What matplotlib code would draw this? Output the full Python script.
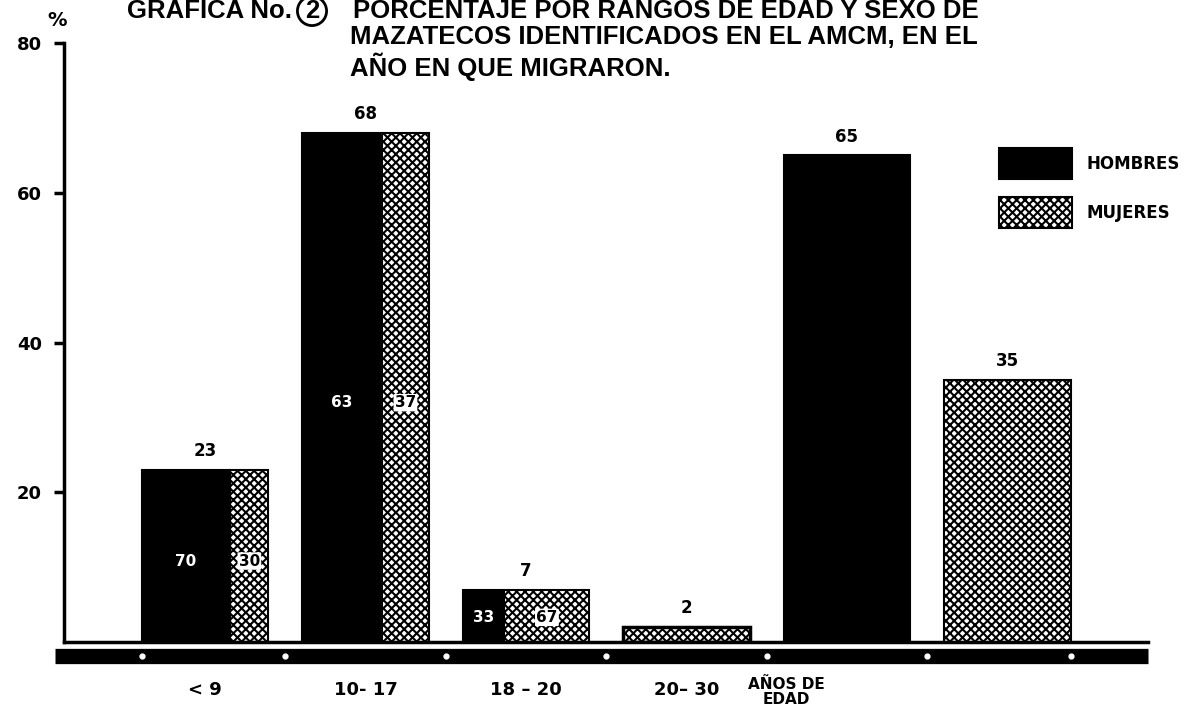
import numpy as np
import matplotlib.pyplot as plt

plt.rcParams['font.family'] = ['DejaVu Sans']
plt.rcParams['font.weight'] = 'bold'
plt.rcParams['hatch.linewidth'] = 1.5

# datos: porcentaje por rango de edad y reparto por sexo dentro de cada rango
grupos = ['< 9', '10- 17', '18 – 20', '20– 30']
total_grupo = [23, 68, 7, 2]
pct_hombres = [70, 63, 33, None]
pct_mujeres = [30, 37, 67, None]
sexos = ['HOMBRES', 'MUJERES']
total_sexo = [65, 35]
yticks = [20, 40, 60, 80]

HATCH = 'xxxx'
W = 0.79
TIT = ['Liberation Sans', 'DejaVu Sans']

fig = plt.figure(figsize=(11.91, 7.14), dpi=100)
ax = fig.add_axes([64/1191, 72/714, 1084/1191, 599/714])

pos = np.arange(len(grupos) + len(sexos))

for i, tot in enumerate(total_grupo):
    left = pos[i] - W/2
    if pct_hombres[i] is None:
        ax.bar(left, tot, W, align='edge', color='white', edgecolor='black', hatch=HATCH, lw=2.5)
    else:
        wh = W * pct_hombres[i] / 100
        ax.bar(left, tot, wh, align='edge', color='black', edgecolor='black', lw=1.5)
        ax.bar(left + wh, tot, W - wh, align='edge', color='white', edgecolor='black', hatch=HATCH, lw=1.5)
        yy = tot * 0.47
        ax.text(left + wh/2, yy, str(pct_hombres[i]), color='white', ha='center', va='center', fontsize=11)
        ax.text(left + wh + (W - wh)/2, yy, str(pct_mujeres[i]), color='black', ha='center', va='center',
                fontsize=11, bbox=dict(boxstyle='round,pad=0.08', fc='white', ec='none'))
    ax.annotate(str(tot), (pos[i], tot), xytext=(0, 7), textcoords='offset points',
                ha='center', va='bottom', fontsize=12)

# barras totales por sexo
h = ax.bar(pos[4], total_sexo[0], W, color='black', edgecolor='black', lw=1.5, label=sexos[0])
m = ax.bar(pos[5], total_sexo[1], W, color='white', edgecolor='black', hatch=HATCH, lw=1.5, label=sexos[1])
for p, v in zip(pos[4:], total_sexo):
    ax.annotate(str(v), (p, v), xytext=(0, 7), textcoords='offset points',
                ha='center', va='bottom', fontsize=12)

ax.set_xlim((64 - 205)/160.5, (1148 - 205)/160.5)
ax.set_ylim(0, 80)
ax.spines['top'].set_visible(False)
ax.spines['right'].set_visible(False)
ax.spines['left'].set_linewidth(2.5)
ax.spines['bottom'].set_linewidth(2.5)
ax.set_yticks(yticks)
ax.set_yticklabels([str(t) for t in yticks], fontsize=13)
ax.tick_params(axis='y', length=7, width=2.5, pad=9)
ax.set_xticks(pos[:4])
ax.set_xticklabels(grupos, fontsize=13)
ax.tick_params(axis='x', length=0, pad=28)
ax.annotate('AÑOS DE\nEDAD', (3.62, 0), xycoords=('data', 'axes fraction'), xytext=(0, -35),
            textcoords='offset pixels', ha='center', va='top', fontsize=11, linespacing=1.0)

# franja inferior con puntos blancos en los limites de grupo
ax.plot([-0.0085, 1.0], [-0.0234, -0.0234], transform=ax.transAxes, color='black', lw=11,
        solid_capstyle='butt', clip_on=False)
bordes = [pos[0] - W/2] + list(pos[:-1] + 0.5) + [pos[-1] + W/2]
ax.plot(bordes, [-0.0234]*len(bordes), transform=ax.get_xaxis_transform(), ls='none',
        marker='o', ms=3.5, mfc='white', mec='white', clip_on=False)

fig.legend(handles=[h, m], loc='upper left', bbox_to_anchor=(999/1191, 1 - 148/714),
           frameon=False, fontsize=12, handlelength=4.37, handleheight=2.5,
           labelspacing=1.08, handletextpad=0.85, borderpad=0, borderaxespad=0)

# titulo
fig.text(127/1191, 1 - 11/714, 'GRAFICA No.', fontsize=18.5, va='center', ha='left', family=TIT)
fig.text(312/1191, 1 - 11/714, '2', fontsize=18.5, va='center', ha='center', family=TIT,
         bbox=dict(boxstyle='circle,pad=0.1', fc='white', ec='black', lw=2))
fig.text(353/1191, 1 - 11/714, 'PORCENTAJE POR RANGOS DE EDAD Y SEXO DE', fontsize=18.5,
         va='center', ha='left', family=TIT)
fig.text(350/1191, 1 - 37/714, 'MAZATECOS IDENTIFICADOS EN EL AMCM, EN EL', fontsize=18.5,
         va='center', ha='left', family=TIT)
fig.text(350/1191, 1 - 67/714, 'AÑO EN QUE MIGRARON.', fontsize=18.5, va='center', ha='left', family=TIT)
fig.text(57/1191, 1 - 20/714, '%', fontsize=14, va='center', ha='center')

fig.savefig('out.png', dpi=100)
